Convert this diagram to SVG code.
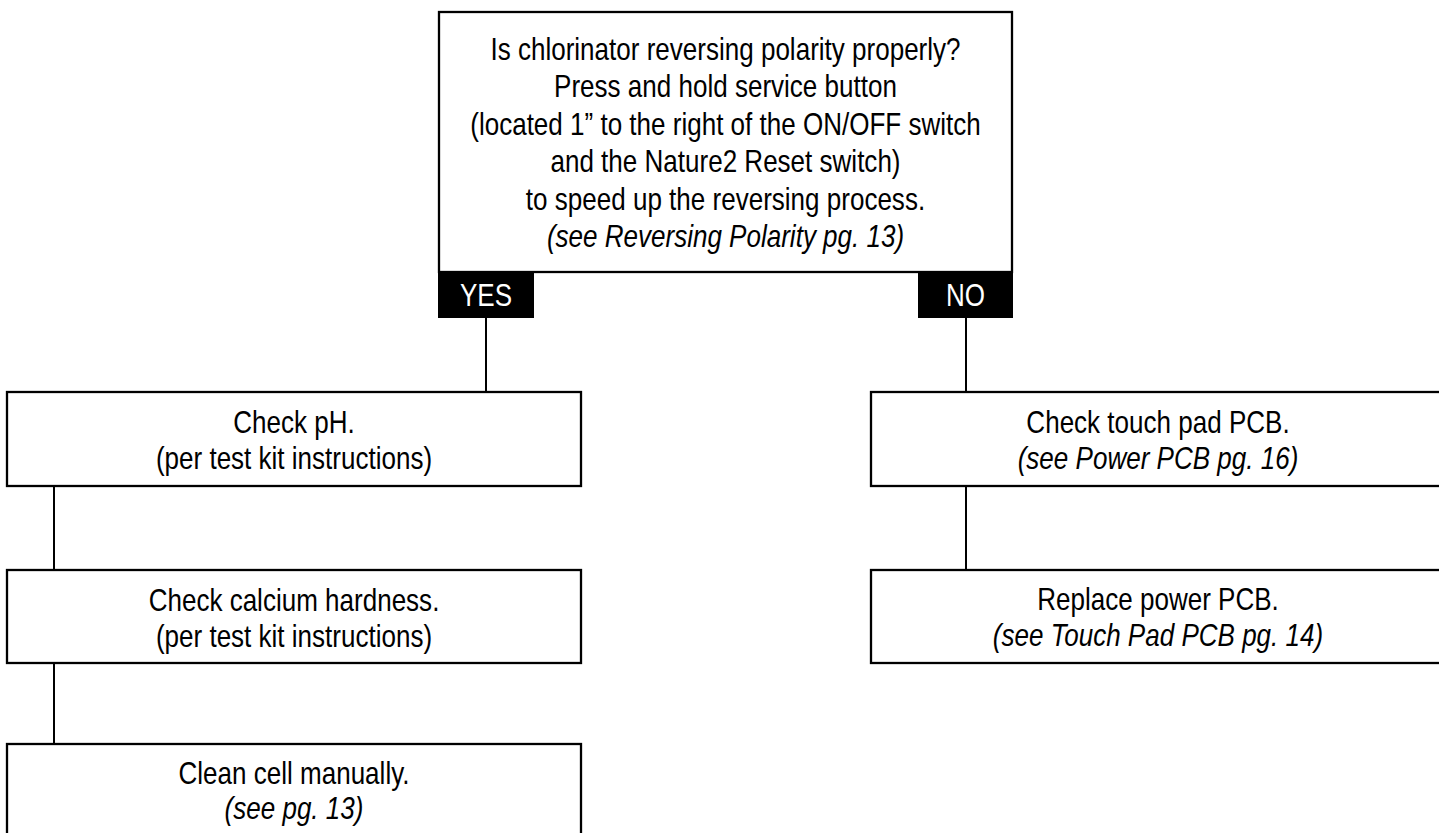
<svg xmlns="http://www.w3.org/2000/svg" width="1439" height="833" viewBox="0 0 1439 833">
  <style>
    .box { fill: #ffffff; stroke: #000000; stroke-width: 2.3; }
    .lbl { fill: #000000; }
    .conn { stroke: #000000; stroke-width: 2; fill: none; }
    .t { font-family: "Liberation Sans", Arial, Helvetica, sans-serif; font-size: 31px; text-anchor: middle; fill: #000000; }
    .i { font-style: italic; }
    .w { fill: #ffffff; }
  </style>
  <rect x="0" y="0" width="1439" height="833" fill="#ffffff"/>

  <g id="connectors">
    <line class="conn" x1="486" y1="318" x2="486" y2="392"/>
    <line class="conn" x1="966" y1="318" x2="966" y2="392"/>
    <line class="conn" x1="54" y1="486" x2="54" y2="570"/>
    <line class="conn" x1="54" y1="663" x2="54" y2="744"/>
    <line class="conn" x1="966" y1="486" x2="966" y2="570"/>
    <g id="label-yes">
      <rect class="lbl" x="438" y="272" width="96" height="46"/>
      <g transform="translate(486,0) scale(0.84,1)">
        <text class="t w" x="0" y="306.5">YES</text>
      </g>
    </g>
    <g id="label-no">
      <rect class="lbl" x="918" y="272" width="95" height="46"/>
      <g transform="translate(965.5,0) scale(0.84,1)">
        <text class="t w" x="0" y="306.5">NO</text>
      </g>
    </g>
  </g>

  <g id="node-question">
    <rect class="box" x="439" y="12" width="573" height="260"/>
    <g transform="translate(725.5,0) scale(0.84,1)">
      <text class="t" x="0" y="60">Is chlorinator reversing polarity properly?</text>
      <text class="t" x="0" y="97.5">Press and hold service button</text>
      <text class="t" x="0" y="135">(located 1” to the right of the ON/OFF switch</text>
      <text class="t" x="0" y="172.5">and the Nature2 Reset switch)</text>
      <text class="t" x="0" y="210">to speed up the reversing process.</text>
      <text class="t i" x="0" y="247.5">(see Reversing Polarity pg. 13)</text>
    </g>
  </g>

  <g id="node-ph">
    <rect class="box" x="7" y="392" width="574" height="94"/>
    <g transform="translate(294,0) scale(0.84,1)">
      <text class="t" x="0" y="433">Check pH.</text>
      <text class="t" x="0" y="469">(per test kit instructions)</text>
    </g>
  </g>

  <g id="node-calcium">
    <rect class="box" x="7" y="570" width="574" height="93"/>
    <g transform="translate(294,0) scale(0.84,1)">
      <text class="t" x="0" y="611">Check calcium hardness.</text>
      <text class="t" x="0" y="647">(per test kit instructions)</text>
    </g>
  </g>

  <g id="node-clean">
    <rect class="box" x="7" y="744" width="574" height="94"/>
    <g transform="translate(294,0) scale(0.84,1)">
      <text class="t" x="0" y="784">Clean cell manually.</text>
      <text class="t i" x="0" y="819">(see pg. 13)</text>
    </g>
  </g>

  <g id="node-touchpad">
    <rect class="box" x="871" y="392" width="574" height="94"/>
    <g transform="translate(1158,0) scale(0.84,1)">
      <text class="t" x="0" y="433">Check touch pad PCB.</text>
      <text class="t i" x="0" y="469">(see Power PCB pg. 16)</text>
    </g>
  </g>

  <g id="node-power">
    <rect class="box" x="871" y="570" width="574" height="93"/>
    <g transform="translate(1158,0) scale(0.84,1)">
      <text class="t" x="0" y="610">Replace power PCB.</text>
      <text class="t i" x="0" y="646">(see Touch Pad PCB pg. 14)</text>
    </g>
  </g>
</svg>
